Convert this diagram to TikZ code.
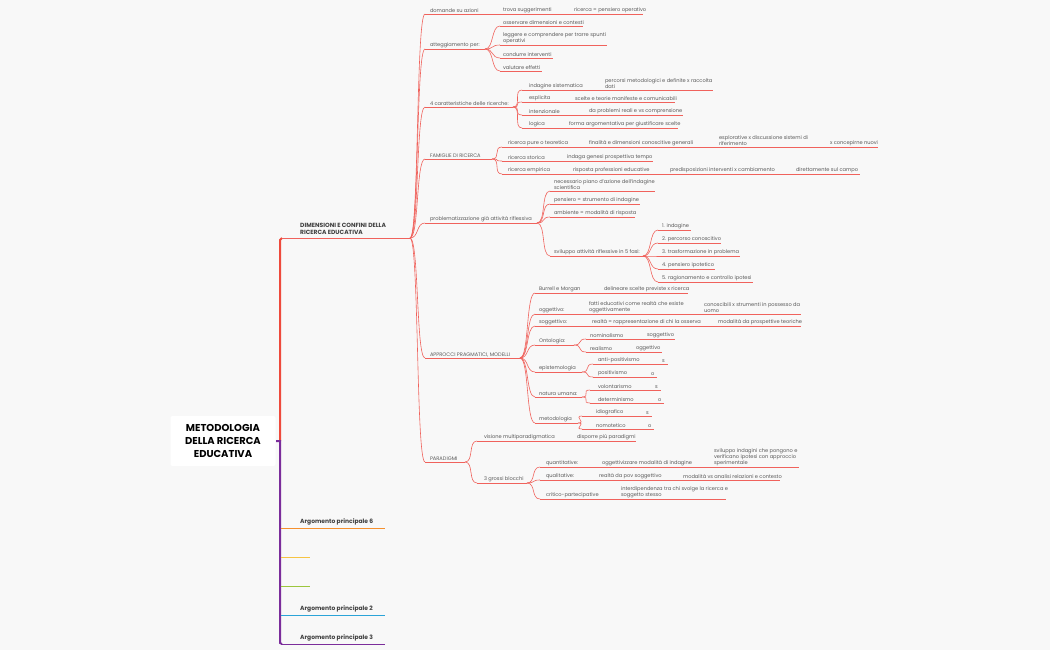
\documentclass[tikz,border=0pt]{standalone}
\usepackage{fontspec}
\setmainfont{Poppins}
\definecolor{lred}{HTML}{F0625C}
\definecolor{trunkred}{HTML}{EE4A3C}
\definecolor{ppl}{HTML}{7B2D9B}
\definecolor{yel}{HTML}{F6C443}
\definecolor{grn}{HTML}{9CC63E}
\definecolor{blu}{HTML}{2BA4D8}
\definecolor{org}{HTML}{F5902E}
\begin{document}
\begin{tikzpicture}[x=1pt,y=-1pt,
 br/.style={draw=lred,line width=0.6pt},
 lbl/.style={font=\fontsize{5.1}{6}\selectfont,text=black!65,inner sep=0.8pt,align=left},
 big/.style={font=\bfseries\fontsize{6}{7.5}\selectfont,text=black!75,inner sep=0pt,align=left}]
\fill[white!96!blue!30!gray!8] (0,0) rectangle (1050,650);
\useasboundingbox (0,0) rectangle (1050,650);
\newcommand\nd[6]{\coordinate (#1s) at (#2,#5);\coordinate (#1e) at (#4,#5);
 \draw[br] (#1s)--(#1e);\node[lbl,anchor=south west] (#1) at (#3,#5) {#6};}
\newcommand\con[2]{\draw[br] (#1e) .. controls +(9,0) and +(-9,0) .. (#2s);}
% root
\node[fill=white,rounded corners=2pt,minimum width=105pt,minimum height=50pt,align=center,
 font=\bfseries\fontsize{10}{12.8}\selectfont,text=black] (root) at (223,441) {METODOLOGIA\\DELLA RICERCA\\EDUCATIVA};
\coordinate (rootR) at (280,441);
\draw[trunkred,line width=2pt] (rootR) -- (280,240) -- (282,238);
\draw[ppl,line width=2pt] (276,441) -- (rootR) -- (280,643) -- (282,644);
\coordinate (dims) at (282,238); \coordinate (dime) at (410,238);
\draw[lred,line width=0.9pt] (dims) -- (dime);
\node[big,anchor=south west] (dim) at (300,235) {DIMENSIONI E CONFINI DELLA\\RICERCA EDUCATIVA};
% other main branches
\coordinate (a6s) at (281,528); \coordinate (a6e) at (385,528);
\draw[org,line width=0.9pt] (a6s)--(a6e); \node[big,anchor=south west] (a6) at (300,525) {Argomento principale 6};
\coordinate (ys) at (281,557); \coordinate (ye) at (310,557); \draw[yel,line width=0.8pt] (ys)--(ye);
\coordinate (gs) at (281,586); \coordinate (ge) at (310,586); \draw[grn,line width=0.8pt] (gs)--(ge);
\coordinate (a2s) at (281,615); \coordinate (a2e) at (385,615);
\draw[blu,line width=0.9pt] (a2s)--(a2e); \node[big,anchor=south west] (a2) at (300,612) {Argomento principale 2};
\coordinate (a3s) at (281,644); \coordinate (a3e) at (385,644);
\draw[ppl,line width=0.9pt] (a3s)--(a3e); \node[big,anchor=south west] (a3) at (300,641) {Argomento principale 3};
% level 1
\nd{d1}{425}{429}{497}{14}{domande su azioni}
\nd{d1a}{497}{502}{568}{14}{trova suggerimenti}
\nd{d1b}{568}{573}{643}{14}{ricerca = pensiero operativo}
\nd{at}{425}{429}{485}{49}{atteggiamento per:}
\nd{at1}{500}{502}{583}{26}{osservare dimensioni e contesti}
\nd{at2}{500}{502}{607}{45}{leggere e comprendere per trarre spunti\\operativi}
\nd{at3}{500}{502}{553}{58}{condurre interventi}
\nd{at4}{500}{502}{542}{71}{valutare effetti}
\nd{c4}{425}{429}{513}{107}{4 caratteristiche delle ricerche:}
\nd{c1}{522}{528}{597}{90}{indagine sistematica}
\nd{c1a}{597}{604}{713}{90}{percorsi metodologici e definite x raccolta\\dati}
\nd{c2}{522}{528}{567}{102}{esplicita}
\nd{c2a}{567}{574}{675}{102}{scelte e teorie manifeste e comunicabili}
\nd{c3}{522}{528}{582}{115}{intenzionale}
\nd{c3a}{582}{588}{683}{115}{da problemi reali e vs comprensione}
\nd{c5}{522}{528}{562}{128}{logica}
\nd{c5a}{562}{568}{678}{128}{forma argomentativa per giustificare scelte}
\nd{fa}{425}{429}{492}{159}{FAMIGLIE DI RICERCA}
\nd{f1}{502}{507}{582}{147}{ricerca pure o teoretica}
\nd{f1a}{582}{588}{712}{147}{finalità e dimensioni conoscitive generali}
\nd{f1b}{712}{718}{822}{147}{esplorative x discussione sistemi di\\riferimento}
\nd{f1c}{822}{829}{878}{147}{x concepirne nuovi}
\nd{f2}{502}{507}{561}{161}{ricerca storica}
\nd{f2a}{561}{566}{653}{161}{indaga genesi prospettiva tempo}
\nd{f3}{502}{507}{566}{174}{ricerca empirica}
\nd{f3a}{566}{572}{663}{174}{risposta professioni educative}
\nd{f3b}{663}{669}{788}{174}{predisposizioni interventi x cambiamento}
\nd{f3c}{788}{795}{860}{174}{direttamente sul campo}
\nd{pr}{425}{429}{537}{223}{problematizzazione già attività riflessiva}
\nd{p1}{550}{553}{655}{191}{necessario piano d'azione dell'indagine\\scientifica}
\nd{p2}{550}{553}{640}{204}{pensiero = strumento di indagine}
\nd{p3}{550}{553}{635}{217}{ambiente = modalità di risposta}
\nd{p4}{550}{553}{643}{256}{sviluppo attività riflessive in 5 fasi:}
\nd{q1}{658}{661}{691}{230}{1. indagine}
\nd{q2}{658}{661}{721}{243}{2. percorso conoscitivo}
\nd{q3}{658}{661}{740}{256}{3. trasformazione in problema}
\nd{q4}{658}{661}{715}{269}{4. pensiero ipotetico}
\nd{q5}{658}{661}{753}{282}{5. ragionamento e controllo ipotesi}
\nd{ap}{425}{429}{520}{358}{APPROCCI PRAGMATICI, MODELLI}
\nd{b1}{535}{538}{597}{293}{Burrell e Morgan}
\nd{b1a}{597}{603}{688}{293}{delineare scelte previste x ricerca}
\nd{b2}{535}{538}{582}{314}{oggettivo:}
\nd{b2a}{582}{588}{701}{314}{fatti educativi come realtà che esiste\\oggettivamente}
\nd{b2b}{701}{703}{801}{314}{conoscibili x strumenti in possesso da\\uomo}
\nd{b3}{535}{538}{585}{326}{soggettivo:}
\nd{b3a}{585}{591}{712}{326}{realtà = rappresentazione di chi la osserva}
\nd{b3b}{712}{717}{801}{326}{modalità da prospettive teoriche}
\nd{b4}{535}{538}{574}{345}{Ontologia:}
\nd{o1}{586}{589}{644}{339}{nominalismo}
\nd{o1a}{644}{646}{675}{339}{soggettivo}
\nd{o2}{586}{589}{633}{352}{realismo}
\nd{o2a}{633}{635}{662}{352}{oggettivo}
\nd{b5}{535}{538}{582}{372}{epistemologia}
\nd{e1}{593}{597}{662}{364}{anti-positivismo}
\nd{e1a}{662}{661}{668}{364}{s}
\nd{e2}{593}{597}{652}{377}{positivismo}
\nd{e2a}{652}{650}{657}{377}{o}
\nd{b6}{535}{538}{582}{397}{natura umana:}
\nd{n1}{590}{597}{656}{390}{volontarismo}
\nd{n1a}{656}{654}{661}{390}{s}
\nd{n2}{590}{597}{659}{403}{determinismo}
\nd{n2a}{659}{657}{664}{403}{o}
\nd{b7}{535}{538}{578}{423}{metodologia}
\nd{m1}{582}{595}{646}{416}{idiografico}
\nd{m1a}{646}{645}{652}{416}{s}
\nd{m2}{582}{595}{648}{429}{nomotetico}
\nd{m2a}{648}{647}{654}{429}{o}
\nd{pa}{425}{429}{465}{462}{PARADIGMI}
\nd{v1}{477}{483}{570}{441}{visione multiparadigmatica}
\nd{v1a}{570}{576}{636}{441}{disporre più paradigmi}
\nd{v2}{477}{483}{527}{483}{3 grossi blocchi}
\nd{g1}{540}{545}{596}{467}{quantitative:}
\nd{g1a}{596}{601}{709}{467}{oggettivizzare modalità di indagine}
\nd{g1b}{709}{713}{799}{467}{sviluppo indagini che pongono e\\verificano ipotesi con approccio\\sperimentale}
\nd{g2}{540}{545}{595}{480}{qualitative:}
\nd{g2a}{595}{598}{680}{480}{realtà da pov soggettivo}
\nd{g2b}{680}{682}{780}{480}{modalità vs analisi relazioni e contesto}
\nd{g3}{540}{545}{615}{499}{critico-partecipative}
\nd{g3a}{615}{620}{726}{499}{interdipendenza tra chi svolge la ricerca e\\soggetto stesso}
% connectors
\foreach \c in {d1,at,c4,fa,pr,ap,pa} {\con{dim}{\c}}
\foreach \c in {at1,at2,at3,at4} {\con{at}{\c}}
\foreach \c in {c1,c2,c3,c5} {\con{c4}{\c}}
\foreach \c in {f1,f2,f3} {\con{fa}{\c}}
\foreach \c in {p1,p2,p3,p4} {\con{pr}{\c}}
\foreach \c in {q1,q2,q3,q4,q5} {\con{p4}{\c}}
\foreach \c in {b1,b2,b3,b4,b5,b6,b7} {\con{ap}{\c}}
\foreach \c in {o1,o2} {\con{b4}{\c}}
\foreach \c in {e1,e2} {\con{b5}{\c}}
\foreach \c in {n1,n2} {\con{b6}{\c}}
\foreach \c in {m1,m2} {\con{b7}{\c}}
\foreach \c in {v1,v2} {\con{pa}{\c}}
\foreach \c in {g1,g2,g3} {\con{v2}{\c}}
\end{tikzpicture}
\end{document}
